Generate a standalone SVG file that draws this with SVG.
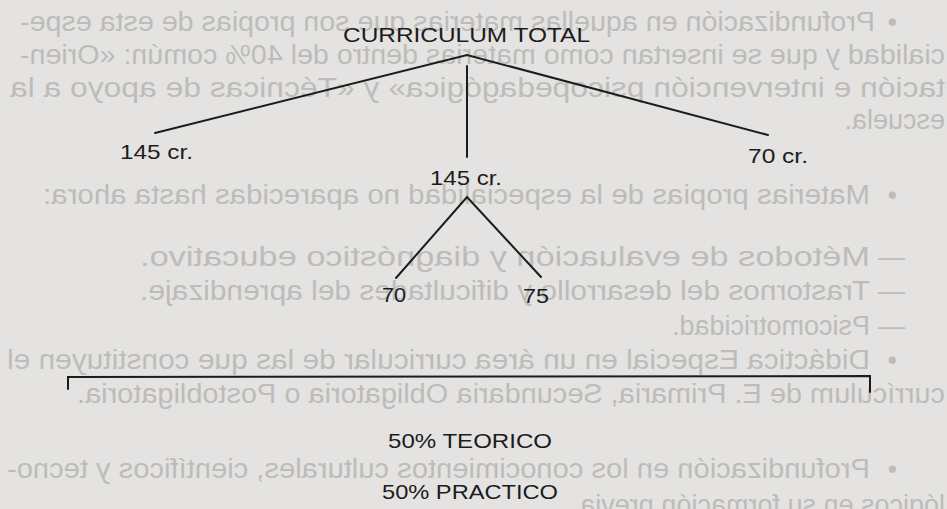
<svg xmlns="http://www.w3.org/2000/svg" width="947" height="509" viewBox="0 0 947 509">
<style>
.bg{fill:#e4e3e1}
.bleed{font-family:"Liberation Sans",Arial,sans-serif;font-size:27px;fill:#bdbcba}
.lbl{font-family:"Liberation Sans",Arial,sans-serif;font-size:21px;fill:#1c1c1c}
.ln{stroke:#1c1c1c;stroke-width:2;fill:none;stroke-linecap:round;stroke-linejoin:miter}
</style>
<rect class="bg" x="0" y="0" width="947" height="509"/>
<g id="bleed-through" transform="matrix(-1 0 0 1 947 0)">
<text class="bleed" x="50" y="31">•</text>
<text class="bleed" x="72" y="31" textLength="855" lengthAdjust="spacingAndGlyphs">Profundización en aquellas materias que son propias de esta espe-</text>
<text class="bleed" x="2" y="64" textLength="925" lengthAdjust="spacingAndGlyphs">cialidad y que se insertan como materias dentro del 40% común: «Orien-</text>
<text class="bleed" x="2" y="97" textLength="935" lengthAdjust="spacingAndGlyphs">tación e intervención psicopedagógica» y «Técnicas de apoyo a la</text>
<text class="bleed" x="2" y="129">escuela.</text>
<text class="bleed" x="50" y="204">•</text>
<text class="bleed" x="77" y="204" textLength="827" lengthAdjust="spacingAndGlyphs">Materias propias de la especialidad no aparecidas hasta ahora:</text>
<text class="bleed" x="42" y="266">—</text>
<text class="bleed" x="77" y="266" textLength="730" lengthAdjust="spacingAndGlyphs">Métodos de evaluación y diagnóstico educativo.</text>
<text class="bleed" x="42" y="300">—</text>
<text class="bleed" x="77" y="300" textLength="730" lengthAdjust="spacingAndGlyphs">Trastornos del desarrollo y dificultades del aprendizaje.</text>
<text class="bleed" x="42" y="335">—</text>
<text class="bleed" x="77" y="335">Psicomotricidad.</text>
<text class="bleed" x="50" y="369">•</text>
<text class="bleed" x="77" y="369" textLength="863" lengthAdjust="spacingAndGlyphs">Didáctica Especial en un área curricular de las que constituyen el</text>
<text class="bleed" x="2" y="403" textLength="868" lengthAdjust="spacingAndGlyphs">currículum de E. Primaria, Secundaria Obligatoria o Postobligatoria.</text>
<text class="bleed" x="50" y="478">•</text>
<text class="bleed" x="77" y="478" textLength="863" lengthAdjust="spacingAndGlyphs">Profundización en los conocimientos culturales, científicos y tecno-</text>
<text class="bleed" x="2" y="514">lógicos en su formación previa</text>
</g>
<g id="connectors">
<polyline class="ln" points="155,133 467,55 768,135"/>
<line class="ln" x1="467" y1="66" x2="467" y2="157"/>
<polyline class="ln" points="396,278 467,197 541,277"/>
<polyline class="ln" points="68,389 68,377 870,376 870,392"/>
</g>
<g id="root"><text class="lbl" x="343" y="42" textLength="247" lengthAdjust="spacingAndGlyphs">CURRICULUM TOTAL</text></g>
<g id="left-145"><text class="lbl" x="120" y="159" textLength="73" lengthAdjust="spacingAndGlyphs">145 cr.</text></g>
<g id="right-70"><text class="lbl" x="748" y="163" textLength="60" lengthAdjust="spacingAndGlyphs">70 cr.</text></g>
<g id="mid-145"><text class="lbl" x="430" y="185" textLength="72" lengthAdjust="spacingAndGlyphs">145 cr.</text></g>
<g id="n70"><text class="lbl" x="382" y="302" textLength="24" lengthAdjust="spacingAndGlyphs">70</text></g>
<g id="n75"><text class="lbl" x="523" y="303" textLength="26" lengthAdjust="spacingAndGlyphs">75</text></g>
<g id="teorico"><text class="lbl" x="388" y="448" textLength="164" lengthAdjust="spacingAndGlyphs">50% TEORICO</text></g>
<g id="practico"><text class="lbl" x="382" y="499" textLength="176" lengthAdjust="spacingAndGlyphs">50% PRACTICO</text></g>
</svg>
